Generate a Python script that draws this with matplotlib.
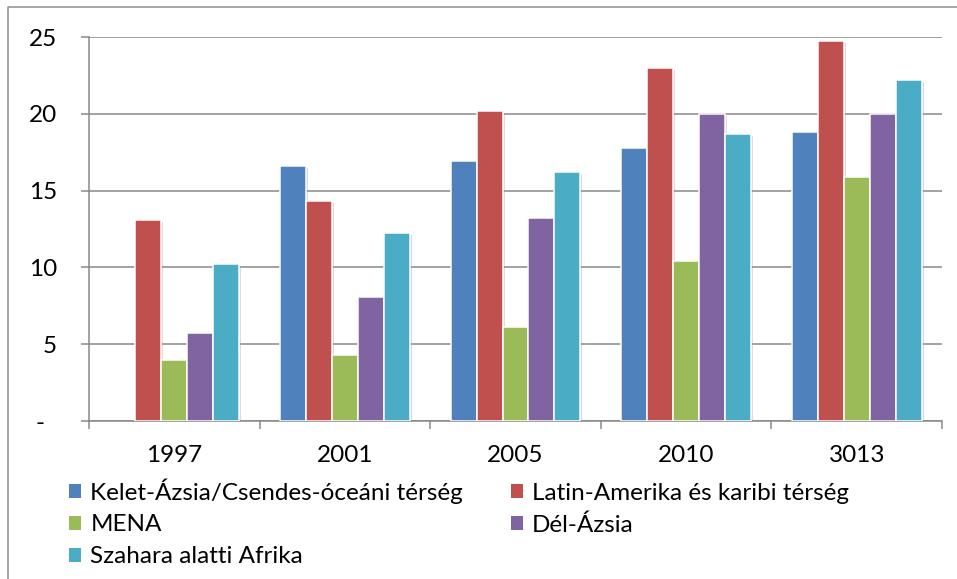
import numpy as np
import matplotlib
matplotlib.use("Agg")
import matplotlib.pyplot as plt
from matplotlib.patches import Patch
from matplotlib.lines import Line2D
import matplotlib.patheffects as pe

# Data
years = ["1997", "2001", "2005", "2010", "3013"]
regions = [
    "Kelet-Ázsia/Csendes-óceáni térség",
    "Latin-Amerika és karibi térség",
    "MENA",
    "Dél-Ázsia",
    "Szahara alatti Afrika",
]
kelet_azsia = [np.nan, 16.6, 16.9, 17.8, 18.8]
latin_amerika = [13.1, 14.3, 20.2, 23.0, 24.75]
mena = [3.95, 4.3, 6.1, 10.4, 15.9]
del_azsia = [5.75, 8.05, 13.2, 20.0, 20.0]
szahara = [10.2, 12.25, 16.2, 18.7, 22.2]
series = [kelet_azsia, latin_amerika, mena, del_azsia, szahara]
colors = ["#4F81BD", "#C0504D", "#9BBB59", "#8064A2", "#4BACC6"]
yticks = [0, 5, 10, 15, 20, 25]
ytick_labels = ["-  ", "5", "10", "15", "20", "25"]

plt.rcParams["font.family"] = ["Lato", "DejaVu Sans"]
FS = 17.5
GRAY = "#868686"
PX = 0.72  # points per pixel at 100 dpi

W, H = 957, 579
fig = plt.figure(figsize=(W / 100, H / 100), dpi=100)
ax = fig.add_axes([89 / W, (H - 421) / H, (942 - 89) / W, (421 - 37) / H])

x = np.arange(len(years))
bw = 0.152
shadow = [pe.SimplePatchShadow(offset=(1.5, -1.5), shadow_rgbFace="#9a9a9a", alpha=0.35), pe.Normal()]
for i, (vals, col) in enumerate(zip(series, colors)):
    bars = ax.bar(x + (i - 2) * bw, vals, width=bw, color=col,
                  edgecolor="white", linewidth=1.5 * PX, zorder=3)
    for b in bars:
        b.set_path_effects(shadow)

ax.set_xlim(-0.5, len(years) - 0.5)
ax.set_ylim(0, 25)

# Horizontal gridlines
ax.set_yticks(yticks)
ax.set_yticklabels(ytick_labels, fontsize=FS)
ax.yaxis.grid(True, color=GRAY, linewidth=1.5 * PX, zorder=0)
ax.set_axisbelow(True)
ax.tick_params(axis="y", direction="out", length=8 * PX, width=1.5 * PX,
               color=GRAY, pad=24 * PX, labelcolor="black")

# Category boundaries as major ticks, year labels on minor ticks
ax.set_xticks(np.arange(-0.5, len(years), 1.0))
ax.set_xticklabels([])
ax.set_xticks(x, minor=True)
ax.set_xticklabels(years, minor=True, fontsize=FS)
ax.tick_params(axis="x", which="major", direction="out", length=8 * PX,
               width=1.5 * PX, color=GRAY)
ax.tick_params(axis="x", which="minor", length=0, pad=17, labelcolor="black")

for s in ["top", "right"]:
    ax.spines[s].set_visible(False)
for s in ["left", "bottom"]:
    ax.spines[s].set_color(GRAY)
    ax.spines[s].set_linewidth(1.5 * PX)

# Legend, row-major order over two columns
handles = [Patch(facecolor=c, edgecolor="none") for c in colors]
order = [0, 2, 4, 1, 3]
leg = fig.legend([handles[k] for k in order], [regions[k] for k in order],
                 ncol=2, loc="upper left",
                 bbox_to_anchor=(69 / W, 1 - 478 / H), frameon=False,
                 fontsize=FS, borderpad=0, borderaxespad=0,
                 handlelength=0.5, handleheight=0.5, handletextpad=0.38,
                 columnspacing=1.95, labelspacing=0.45)

# Chart area border (left and top edges)
bx, by = 8 / W, 1 - 7 / H
fig.add_artist(Line2D([bx, bx, 1.0], [0.0, by, by], transform=fig.transFigure,
                      color="#8c8c8c", linewidth=1.5 * PX))

fig.savefig("out.png", dpi=100)
